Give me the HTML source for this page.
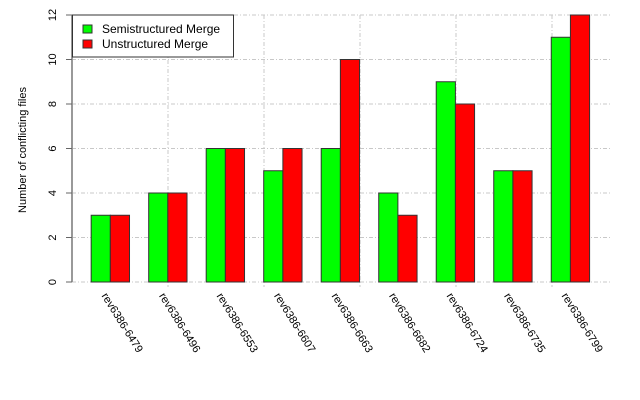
<!DOCTYPE html>
<html><head><meta charset="utf-8"><style>
body{margin:0;background:#fff}
svg{display:block;font-family:"Liberation Sans",sans-serif}
</style></head><body>
<svg id="chart" width="640" height="400"></svg>
<script>
const categories=["rev6386-6479","rev6386-6496","rev6386-6553","rev6386-6607","rev6386-6663","rev6386-6682","rev6386-6724","rev6386-6735","rev6386-6799"];
const semiValues=[3,4,6,5,6,4,9,5,11];
const unstrValues=[3,4,6,6,10,3,8,5,12];
const yTicks=[0,2,4,6,8,10,12];
const NS="http://www.w3.org/2000/svg";
const svg=document.getElementById('chart');
const x0=72,y0=282,yTop=15,yMax=12,unit=19.17,gridRight=612;
function y(v){return y0-(y0-yTop)*v/yMax;}
function gx(i){return x0+unit*(1+3*i);}
function mk(tag,attrs,parent){const e=document.createElementNS(NS,tag);for(const k in attrs)e.setAttribute(k,attrs[k]);(parent||svg).appendChild(e);return e;}
// grid
yTicks.forEach(t=>{
 const l=mk('line',{x1:x0,x2:gridRight,y1:y(t),y2:y(t),stroke:'#c8c8c8','stroke-dasharray':'4,2,1,2'});
 
 
});
for(let gxp=x0+96;gxp<gridRight;gxp+=96){
 const l=mk('line',{x1:gxp,x2:gxp,y1:yTop,y2:y0+5,stroke:'#c8c8c8','stroke-dasharray':'4,2,1,2'});
 
 
}
// bars
categories.forEach((c,i)=>{
 const b1=mk('rect',{x:gx(i),y:y(semiValues[i]),width:unit,height:y0-y(semiValues[i]),fill:'#00ff00',stroke:'#333','stroke-width':1});
 
 
 const b2=mk('rect',{x:gx(i)+unit,y:y(unstrValues[i]),width:unit,height:y0-y(unstrValues[i]),fill:'#ff0000',stroke:'#333','stroke-width':1});
 
 
 const cx=gx(i)+unit-3, cy=292;
 const t=mk('text',{x:cx,y:cy,'font-size':11,transform:`rotate(58 ${cx} ${cy})`,'dominant-baseline':'hanging'});
 t.textContent=c;
 
 
});
// y axis
const ax=mk('line',{x1:x0,x2:x0,y1:yTop,y2:y0,stroke:'#999','stroke-width':2});


yTicks.forEach(t=>{
 const tk=mk('line',{x1:x0-6,x2:x0,y1:y(t),y2:y(t),stroke:'#666'});
 
 
 const lx=56,ly=y(t);
 const tl=mk('text',{x:lx,y:ly,'font-size':11,'text-anchor':'middle',transform:`rotate(-90 ${lx} ${ly})`});
 tl.textContent=t;
 
 
});
const yt=mk('text',{x:26,y:150,'font-size':11,'text-anchor':'middle',transform:'rotate(-90 26 150)'});
yt.textContent='Number of conflicting files';


// legend
const lg=mk('g',{});


mk('rect',{x:72.5,y:15,width:161,height:42,fill:'#fff',stroke:'#333'},lg);
[['Semistructured Merge','#00ff00',29],['Unstructured Merge','#ff0000',44]].forEach(([n,c,yy])=>{
 const e=mk('g',{},lg);
 
 
 mk('rect',{x:83,y:yy-4,width:9,height:8,fill:c,stroke:'#333'},e);
 const tx=mk('text',{x:102,y:yy+4,'font-size':12},e);
 tx.textContent=n;
});
</script>
</body></html>
